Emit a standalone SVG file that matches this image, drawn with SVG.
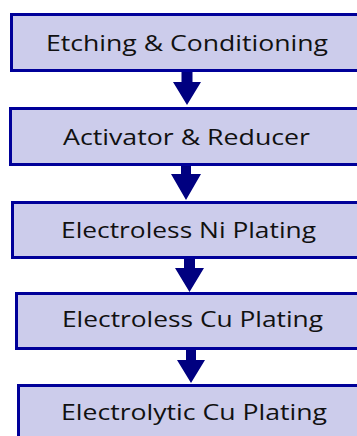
<svg xmlns="http://www.w3.org/2000/svg" width="357" height="436" viewBox="0 0 357 436">
<style>
.box{fill:#CCCCEB;stroke:#000099;stroke-width:3}
.lbl{font-family:"Open Sans","Liberation Sans",sans-serif;font-size:21px;fill:#111111}
.arr{fill:#000080}
</style>
<rect width="357" height="436" fill="#FFFFFF"/>
<g id="n1"><rect class="box" x="11.5" y="14.5" width="360" height="56"/><text class="lbl" x="46" y="50.5" textLength="282" lengthAdjust="spacingAndGlyphs">Etching &amp; Conditioning</text></g>
<g id="n2"><rect class="box" x="10.5" y="108.5" width="360" height="56"/><text class="lbl" x="63" y="145" textLength="247" lengthAdjust="spacingAndGlyphs">Activator &amp; Reducer</text></g>
<g id="n3"><rect class="box" x="12.5" y="202.5" width="360" height="55"/><text class="lbl" x="61" y="237.5" textLength="255" lengthAdjust="spacingAndGlyphs">Electroless Ni Plating</text></g>
<g id="n4"><rect class="box" x="16.5" y="293.5" width="360" height="55"/><text class="lbl" x="62" y="327" textLength="261" lengthAdjust="spacingAndGlyphs">Electroless Cu Plating</text></g>
<g id="n5"><rect class="box" x="18.5" y="385.5" width="360" height="60"/><text class="lbl" x="61" y="420" textLength="266" lengthAdjust="spacingAndGlyphs">Electrolytic Cu Plating</text></g>
<g id="connectors">
<polygon class="arr" points="181.5,72 192.5,72 192.5,82 201,82 187,105 173,82 181.5,82"/>
<polygon class="arr" points="181,166 191,166 191,174 201,174 186,200 171,174 181,174"/>
<polygon class="arr" points="184,259 195,259 195,268 204,268 189.5,292 175,268 184,268"/>
<polygon class="arr" points="186,350 196,350 196,360 205,360 191,383 177,360 186,360"/>
</g>
</svg>
